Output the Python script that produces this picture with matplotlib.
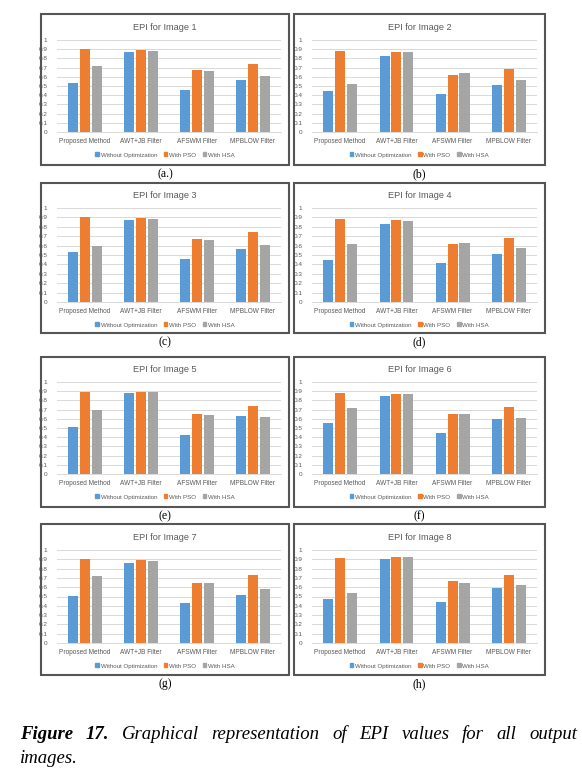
import numpy as np
import matplotlib.pyplot as plt
from matplotlib.patches import Rectangle, Patch

# data
categories = ['Proposed Method', 'AWT+JB Filter', 'AFSWM Filter', 'MPBLOW Filter']
series_names = ['Without Optimization', 'With PSO', 'With HSA']
panel_titles = ['EPI for Image %d' % i for i in range(1, 9)]
panel_labels = ['(a.)', '(b)', '(c)', '(d)', '(e)', '(f)', '(g)', '(h)']

without_opt = [
    [0.53, 0.87, 0.46, 0.56],
    [0.45, 0.83, 0.41, 0.51],
    [0.53, 0.87, 0.46, 0.56],
    [0.45, 0.83, 0.42, 0.51],
    [0.51, 0.88, 0.42, 0.63],
    [0.55, 0.85, 0.45, 0.60],
    [0.51, 0.86, 0.43, 0.52],
    [0.47, 0.90, 0.44, 0.59],
]
with_pso = [
    [0.90, 0.89, 0.67, 0.74],
    [0.88, 0.87, 0.62, 0.68],
    [0.90, 0.89, 0.67, 0.74],
    [0.88, 0.87, 0.62, 0.68],
    [0.89, 0.89, 0.65, 0.74],
    [0.88, 0.87, 0.65, 0.73],
    [0.90, 0.89, 0.65, 0.73],
    [0.91, 0.92, 0.67, 0.73],
]
with_hsa = [
    [0.72, 0.88, 0.66, 0.61],
    [0.52, 0.87, 0.64, 0.57],
    [0.60, 0.88, 0.66, 0.61],
    [0.62, 0.86, 0.63, 0.57],
    [0.70, 0.89, 0.64, 0.62],
    [0.72, 0.87, 0.65, 0.61],
    [0.72, 0.88, 0.65, 0.58],
    [0.54, 0.92, 0.64, 0.62],
]

colors = ['#5B9BD5', '#ED7D31', '#A5A5A5']
text_gray = '#595959'
grid_gray = '#D9D9D9'

W, H = 582, 776
fig = plt.figure(figsize=(W / 100, H / 100), dpi=100)

"Pixel layout of the panels"
col_box = [(41, 289), (294, 545)]
col_plot = [(57, 281), (312, 537)]
row_box = [(14, 165), (183, 333), (357, 507), (524, 675)]
row_plot = [(40, 132), (208, 302), (382, 474), (550, 643)]


def fig_rect(x0, y0, x1, y1):
    return [x0 / W, 1 - y1 / H, (x1 - x0) / W, (y1 - y0) / H]


x = np.arange(len(categories))
bw = 0.18
offsets = [-0.21, 0.0, 0.21]

for i in range(8):
    r, c = divmod(i, 2)
    bx0, bx1 = col_box[c]
    by0, by1 = row_box[r]
    px0, px1 = col_plot[c]
    py0, py1 = row_plot[r]

    "panel frame"
    fig.patches.append(Rectangle((bx0 / W, 1 - by1 / H), (bx1 - bx0) / W, (by1 - by0) / H,
                                 transform=fig.transFigure, fill=False,
                                 edgecolor='#555555', linewidth=1.5))

    ax = fig.add_axes(fig_rect(px0, py0, px1, py1))
    vals = [without_opt[i], with_pso[i], with_hsa[i]]
    for k in range(3):
        ax.bar(x + offsets[k], vals[k], bw, color=colors[k], label=series_names[k], zorder=3)

    ax.set_xlim(-0.5, len(categories) - 0.5)
    ax.set_ylim(0, 1.0)
    ax.set_yticks(np.arange(0, 1.01, 0.1))
    ax.set_yticklabels(['0'] + ['%.1f' % v for v in np.arange(0.1, 0.95, 0.1)] + ['1'])
    ax.set_xticks(x)
    ax.set_xticklabels(categories)
    ax.tick_params(length=0, labelsize=4.6, labelcolor=text_gray)
    ax.tick_params(axis='x', pad=4, labelsize=4.7)
    ax.tick_params(axis='y', pad=7)
    ax.yaxis.grid(True, color=grid_gray, linewidth=0.7, zorder=0)
    ax.set_axisbelow(True)
    for s in ['top', 'right', 'left']:
        ax.spines[s].set_visible(False)
    ax.spines['bottom'].set_color(grid_gray)
    ax.spines['bottom'].set_linewidth(0.7)
    for lab in ax.get_xticklabels() + ax.get_yticklabels():
        lab.set_family('Liberation Sans')

    "title, legend, panel label"
    cx = (bx0 + bx1) / 2
    fig.text(cx / W, 1 - (py0 - 13) / H, panel_titles[i], ha='center', va='center',
             fontsize=6.6, color=text_gray, family='Liberation Sans')
    handles = [Patch(color=colors[k]) for k in range(3)]
    fig.legend(handles, series_names, loc='center', ncol=3, frameon=False,
               bbox_to_anchor=(cx / W, 1 - (py1 + 23) / H),
               handlelength=0.55, handleheight=0.55,
               handletextpad=0.3, columnspacing=1.1,
               prop={'family': 'Liberation Sans', 'size': 4.4},
               labelcolor=text_gray)
    fig.text(cx / W, 1 - (by1 + 9) / H, panel_labels[i], ha='center', va='center',
             fontsize=8.5, family='Liberation Serif')

"Caption, justified over the text width"
renderer = fig.canvas.get_renderer()
cap_x0, cap_x1 = 20, 577
line1 = [('Figure', 'bold'), ('17.', 'bold')] + [(w, 'normal') for w in
         'Graphical representation of EPI values for all output'.split()]
texts = []
widths = []
for w, weight in line1:
    t = fig.text(0, 1 - 739 / H, w, ha='left', va='baseline', fontsize=13.5,
                 style='italic', weight=weight, family='Liberation Serif')
    widths.append(t.get_window_extent(renderer).width)
    texts.append(t)
gap = (cap_x1 - cap_x0 - sum(widths)) / (len(texts) - 1)
pos = cap_x0
for t, wd in zip(texts, widths):
    t.set_x(pos / W)
    pos += wd + gap
fig.text(cap_x0 / W, 1 - 763 / H, 'images.', ha='left', va='baseline', fontsize=13.5,
         style='italic', family='Liberation Serif')

"Save figure"
plt.savefig('out.png', dpi=100)
